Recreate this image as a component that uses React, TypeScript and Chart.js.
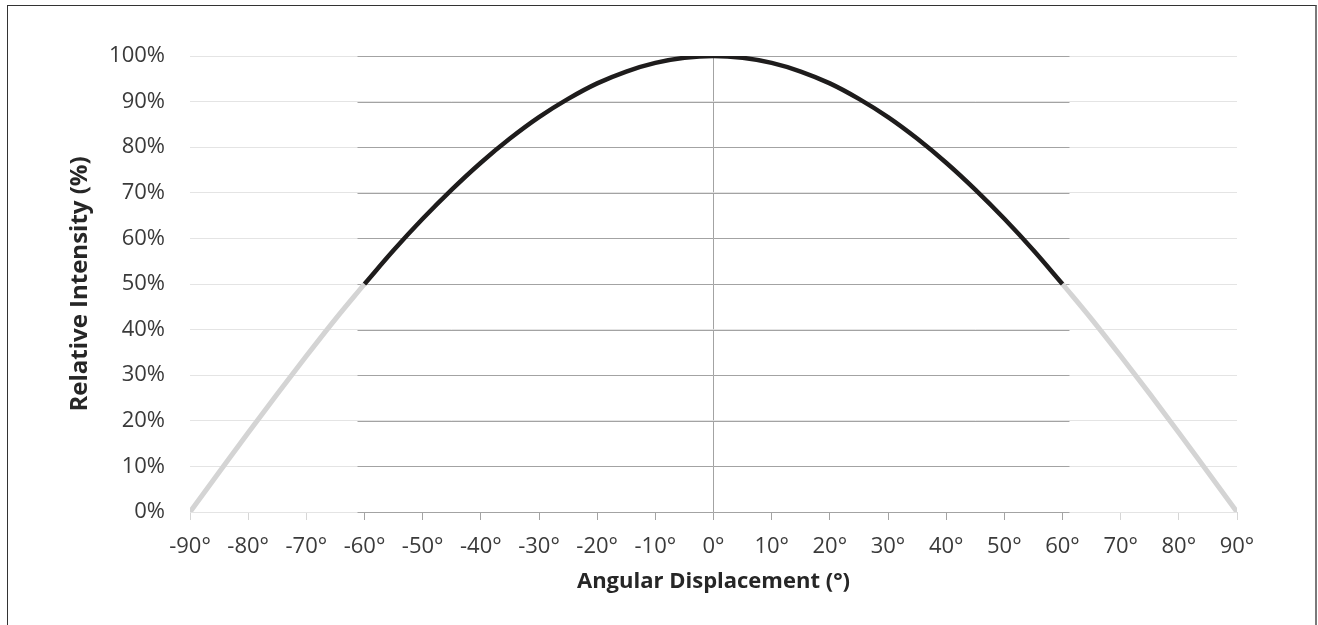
import React, { useEffect, useRef } from "react";
import { Chart, registerables } from "chart.js";

Chart.register(...registerables);

// Angular displacement (degrees) and relative intensity (%)
const ANGLES_LEFT = [-90, -85, -80, -75, -70, -65, -60];
const INTENSITY_LEFT = [0, 8.7, 17.4, 25.9, 34.2, 42.3, 50];

const ANGLES_CENTER = [-60, -55, -50, -45, -40, -35, -30, -25, -20, -15, -10, -5, 0, 5, 10, 15, 20, 25, 30, 35, 40, 45, 50, 55, 60];
const INTENSITY_CENTER = [50, 57.4, 64.3, 70.7, 76.6, 81.9, 86.6, 90.6, 94.0, 96.6, 98.5, 99.6, 100, 99.6, 98.5, 96.6, 94.0, 90.6, 86.6, 81.9, 76.6, 70.7, 64.3, 57.4, 50];

const ANGLES_RIGHT = [60, 65, 70, 75, 80, 85, 90];
const INTENSITY_RIGHT = [50, 42.3, 34.2, 25.9, 17.4, 8.7, 0];

const X_MIN = -90;
const X_MAX = 90;
const INNER_MIN = -60;
const INNER_MAX = 60;
const INNER_GRID_MIN = -61.2;
const INNER_GRID_MAX = 61.2;
const Y_TICKS = [0, 10, 20, 30, 40, 50, 60, 70, 80, 90, 100];

const X_TITLE = "Angular Displacement (°)";
const Y_TITLE = "Relative Intensity (%)";

const FONT = "'Open Sans', 'DejaVu Sans', sans-serif";
const DARK_GRID = "#a3a3a3";
const LIGHT_GRID = "#e4e4e4";

const innerGridPlugin = {
  id: "innerGrid",
  beforeDatasetsDraw(chart: any) {
    const { ctx, scales } = chart;
    const x = scales.x;
    const y = scales.y;
    const x0 = x.getPixelForValue(INNER_GRID_MIN);
    const x1 = x.getPixelForValue(INNER_GRID_MAX);
    ctx.save();
    ctx.strokeStyle = DARK_GRID;
    ctx.lineWidth = 1;
    for (const v of Y_TICKS) {
      const py = Math.round(y.getPixelForValue(v)) + 0.5;
      ctx.beginPath();
      ctx.moveTo(x0, py);
      ctx.lineTo(x1, py);
      ctx.stroke();
    }
    ctx.restore();
  },
};

function toPoints(xs: number[], ys: number[]) {
  return xs.map((v, i) => ({ x: v, y: ys[i] }));
}

export default function App() {
  const canvasRef = useRef<HTMLCanvasElement | null>(null);

  useEffect(() => {
    if (!canvasRef.current) return;
    const chart = new Chart(canvasRef.current, {
      type: "line",
      data: {
        datasets: [
          {
            data: toPoints(ANGLES_LEFT, INTENSITY_LEFT),
            borderColor: "#d4d4d4",
            borderWidth: 5,
            pointRadius: 0,
            cubicInterpolationMode: "monotone",
            order: 2,
          },
          {
            data: toPoints(ANGLES_RIGHT, INTENSITY_RIGHT),
            borderColor: "#d4d4d4",
            borderWidth: 5,
            pointRadius: 0,
            cubicInterpolationMode: "monotone",
            order: 2,
          },
          {
            data: toPoints(ANGLES_CENTER, INTENSITY_CENTER),
            borderColor: "#1e1c1c",
            borderWidth: 4.5,
            pointRadius: 0,
            cubicInterpolationMode: "monotone",
            order: 1,
          },
        ],
      },
      options: {
        responsive: false,
        animation: false,
        events: [],
        layout: { padding: { left: 66, right: 81, top: 56, bottom: 0 } },
        plugins: {
          legend: { display: false },
          tooltip: { enabled: false },
        },
        scales: {
          x: {
            type: "linear",
            min: X_MIN,
            max: X_MAX,
            afterFit: (s: any) => {
              s.height = 113;
            },
            border: { display: false },
            grid: {
              color: (c: any) => (c.tick && c.tick.value === 0 ? DARK_GRID : "rgba(0,0,0,0)"),
              tickColor: (c: any) =>
                c.tick && c.tick.value >= INNER_MIN && c.tick.value <= INNER_MAX ? DARK_GRID : "#d6d6d6",
              tickLength: 8,
              lineWidth: 1,
            },
            ticks: {
              stepSize: 10,
              padding: 14,
              color: "#3a3a3a",
              font: { family: FONT, size: 22 },
              maxRotation: 0,
              autoSkip: false,
              callback: (v: any) => `${v}°`,
            },
            title: {
              display: true,
              text: X_TITLE,
              color: "#262626",
              font: { family: FONT, size: 22, weight: "bold" },
              padding: { top: 0, bottom: 30 },
            },
          },
          y: {
            type: "linear",
            min: 0,
            max: 100,
            afterFit: (s: any) => {
              s.width = 124;
            },
            border: { display: false },
            grid: {
              color: LIGHT_GRID,
              lineWidth: 1,
              drawTicks: false,
            },
            ticks: {
              stepSize: 10,
              padding: 25,
              color: "#3a3a3a",
              font: { family: FONT, size: 22 },
              callback: (v: any) => `${v}%`,
            },
            title: {
              display: true,
              text: Y_TITLE,
              color: "#262626",
              font: { family: FONT, size: 24, weight: "bold" },
              padding: { top: 0, bottom: 0 },
            },
          },
        },
      },
      plugins: [innerGridPlugin],
    } as any);
    return () => chart.destroy();
  }, []);

  return (
    <div
      style={{
        position: "absolute",
        left: 0,
        top: 0,
        width: 1318,
        height: 625,
        overflow: "hidden",
        background: "#ffffff",
      }}
    >
      <div
        style={{
          position: "absolute",
          left: 7,
          top: 5,
          width: 1307,
          height: 700,
          borderLeft: "1px solid #333333",
          borderTop: "1px solid #333333",
          borderRight: "2px solid #7a7a7a",
        }}
      />
      <canvas
        ref={canvasRef}
        width={1318}
        height={625}
        style={{ position: "absolute", left: 0, top: 0, width: 1318, height: 625 }}
      />
    </div>
  );
}
